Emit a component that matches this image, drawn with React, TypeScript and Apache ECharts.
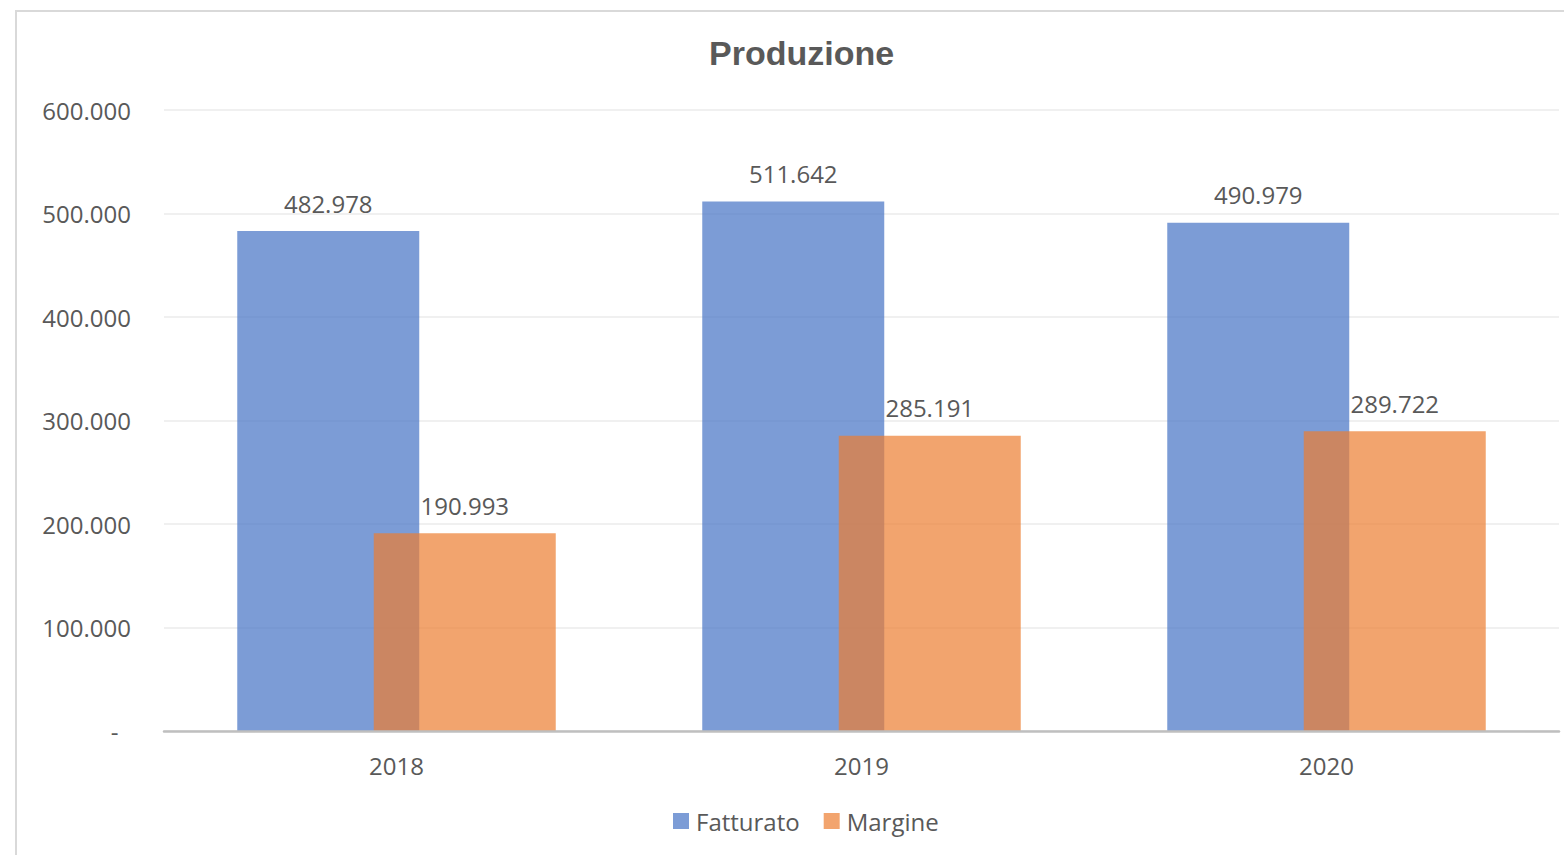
import React, { useEffect, useRef } from "react";
import * as echarts from "echarts";

const categories = ["2018", "2019", "2020"];
const fatturato = [482978, 511642, 490979];
const margine = [190993, 285191, 289722];
const seriesNames = ["Fatturato", "Margine"];
const yTicks = [0, 100000, 200000, 300000, 400000, 500000, 600000];

const fmt = (v: number) =>
  v === 0 ? "-\u00a0\u00a0" : Math.round(v).toString().replace(/\B(?=(\d{3})+(?!\d))/g, ".");

const FONT = "'Open Sans', 'Noto Sans', sans-serif";
const TXT = "#595959";

export default function App() {
  const ref = useRef<HTMLDivElement>(null);
  useEffect(() => {
    if (!ref.current) return;
    const chart = echarts.init(ref.current, undefined, { renderer: "svg" });
    const barLabel = {
      show: true,
      position: "top",
      distance: 16,
      fontFamily: FONT,
      fontSize: 24,
      color: TXT,
      formatter: (p: any) => fmt(p.value),
    };
    chart.setOption({
      animation: false,
      backgroundColor: "#ffffff",
      title: {
        text: "Produzione",
        left: 704,
        top: 31,
        textStyle: {
          fontFamily: "'Liberation Sans', Arial, sans-serif",
          fontWeight: "bold",
          fontSize: 34,
          color: TXT,
        },
      },
      graphic: [
        {
          type: "rect",
          shape: { x: 16, y: 11, width: 1600, height: 900 },
          style: { fill: "none", stroke: "#D9D9D9", lineWidth: 2 },
          silent: true,
        },
      ],
      legend: {
        data: seriesNames,
        bottom: 17,
        left: 668,
        itemWidth: 16,
        itemHeight: 16,
        itemGap: 24,
        icon: "rect",
        textStyle: { fontFamily: FONT, fontSize: 24, color: TXT, padding: [0, 0, 0, 2] },
      },
      grid: { left: 164, right: 5, top: 110, bottom: 124 },
      xAxis: {
        type: "category",
        data: categories,
        axisLine: { lineStyle: { color: "#BFBFBF", width: 2.5 } },
        axisTick: { show: false },
        axisLabel: { fontFamily: FONT, fontSize: 24, color: TXT, margin: 22 },
        z: 5,
      },
      yAxis: {
        type: "value",
        min: yTicks[0],
        max: yTicks[yTicks.length - 1],
        interval: yTicks[1] - yTicks[0],
        axisLine: { show: false },
        axisTick: { show: false },
        splitLine: { lineStyle: { color: "#EBEBEB", width: 1.5 } },
        axisLabel: {
          fontFamily: FONT,
          fontSize: 24,
          color: TXT,
          margin: 33,
          formatter: (v: number) => fmt(v),
        },
      },
      series: [
        {
          name: seriesNames[0],
          type: "bar",
          data: fatturato,
          barWidth: 182,
          barGap: "-25%",
          itemStyle: { color: "rgba(68,114,196,0.7)" },
          label: barLabel,
        },
        {
          name: seriesNames[1],
          type: "bar",
          data: margine,
          barWidth: 182,
          barGap: "-25%",
          itemStyle: { color: "rgba(237,125,49,0.7)" },
          label: barLabel,
        },
      ],
    });
    return () => chart.dispose();
  }, []);
  return (
    <div
      ref={ref}
      style={{ position: "fixed", left: 0, top: 0, width: 1564, height: 855 }}
    />
  );
}
